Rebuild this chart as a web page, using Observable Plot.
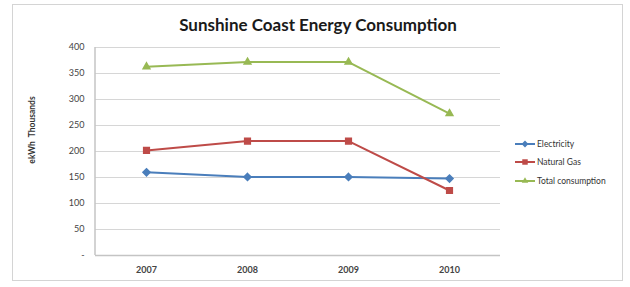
<!DOCTYPE html>
<html>
<head>
<meta charset="utf-8">
<script src="https://cdn.jsdelivr.net/npm/d3@7"></script>
<script src="https://cdn.jsdelivr.net/npm/@observablehq/plot@0.6"></script>
<style>
  html, body { margin: 0; padding: 0; background: #fff; }
  #wrap { position: relative; width: 630px; height: 287px; }
  #frame { position: absolute; left: 12px; top: 4px; width: 611px; height: 277px; border: 1px solid #d4d4d4; box-sizing: border-box; pointer-events: none; }
  svg { font-family: Lato, "Open Sans", sans-serif; }
</style>
</head>
<body>
<div id="wrap"><div id="frame"></div></div>
<script>
const title = "Sunshine Coast Energy Consumption";
const yLabel = "ekWh  Thousands";
const years = ["2007", "2008", "2009", "2010"];
const seriesNames = ["Electricity", "Natural Gas", "Total consumption"];
const electricity = [160, 151, 151, 148];
const naturalGas = [202, 220, 220, 125];
const totalConsumption = [363, 372, 372, 273];
const yTicks = [0, 50, 100, 150, 200, 250, 300, 350, 400];

const colors = ["#4A7EBB", "#BE4B48", "#98B954"];
const symbols = ["diamond2", "square", "triangle2"];
const valuesBySeries = [electricity, naturalGas, totalConsumption];

const data = [];
seriesNames.forEach((s, i) => years.forEach((y, j) => data.push({series: s, year: y, value: valuesBySeries[i][j]})));

const chart = Plot.plot({
  width: 630,
  height: 287,
  marginLeft: 95,
  marginRight: 130,
  marginTop: 47,
  marginBottom: 32,
  style: {fontFamily: "Lato, 'Open Sans', sans-serif", background: "transparent"},
  x: {type: "point", domain: years, padding: 0.5, label: null},
  y: {domain: [0, 400], label: null},
  color: {domain: seriesNames, range: colors},
  symbol: {domain: seriesNames, range: symbols},
  marks: [
    Plot.ruleY(yTicks.filter(d => d > 0), {stroke: "#d6d6d6", strokeWidth: 1}),
    Plot.ruleY([0], {stroke: "#c4c4c4", strokeWidth: 1.5}),
    Plot.axisY({ticks: yTicks, tickSize: 0, tickPadding: 11, tickFormat: d => d === 0 ? "-" : String(d), fontSize: 9, fill: "#444", label: null}),
    Plot.axisX({tickSize: 0, tickPadding: 11, fontSize: 9, fontWeight: "bold", fill: "#444", label: null}),
    Plot.line(data, {x: "year", y: "value", z: "series", stroke: "series", strokeWidth: 2}),
    Plot.dot(data, {x: "year", y: "value", symbol: "series", fill: "series", stroke: "series", r: 3.2})
  ]
});

const svg = d3.select(chart);
// left axis line
svg.append("line").attr("x1", 95).attr("x2", 95).attr("y1", 47).attr("y2", 255).attr("stroke", "#c4c4c4").attr("stroke-width", 1.5);
// title
svg.append("text").attr("x", 318).attr("y", 31).attr("text-anchor", "middle")
  .attr("font-size", 17).attr("font-weight", "bold").attr("fill", "#1a1a1a").text(title);
// y label
svg.append("text").attr("transform", "translate(35,130) rotate(-90)").attr("text-anchor", "middle")
  .attr("font-size", 8.5).attr("font-weight", "bold").attr("fill", "#333").attr("xml:space", "preserve").text(yLabel);
// legend
const ly = [144, 162, 181];
const symGen = [d3.symbolDiamond2, d3.symbolSquare, d3.symbolTriangle2];
seriesNames.forEach((s, i) => {
  const g = svg.append("g").attr("transform", `translate(515,${ly[i]})`);
  g.append("line").attr("x1", 0).attr("x2", 20).attr("y1", 0).attr("y2", 0).attr("stroke", colors[i]).attr("stroke-width", 2);
  g.append("path").attr("transform", "translate(10,0)").attr("d", d3.symbol(symGen[i], 30)()).attr("fill", colors[i]);
  g.append("text").attr("x", 22).attr("y", 0).attr("dy", "0.35em").attr("text-anchor", "start")
    .attr("font-size", 8.5).attr("fill", "#333").text(s);
});

document.getElementById("wrap").appendChild(chart);
chart.style.position = "absolute";
chart.style.left = "0";
chart.style.top = "0";
</script>
</body>
</html>
